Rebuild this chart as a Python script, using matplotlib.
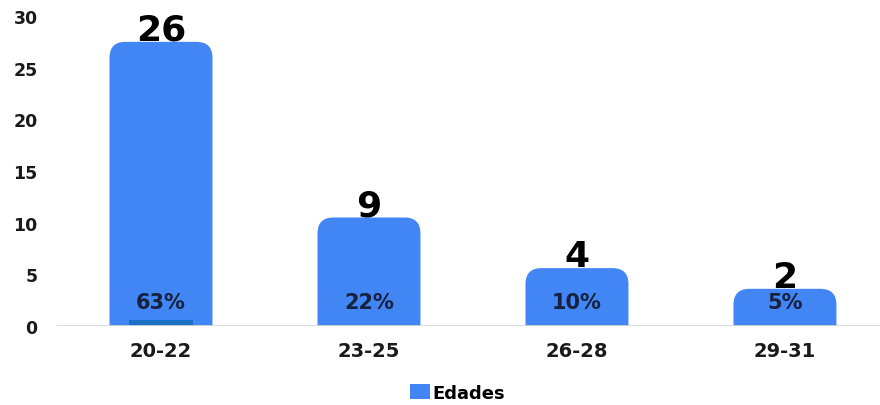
import numpy as np
import matplotlib.pyplot as plt
from matplotlib.path import Path
from matplotlib.patches import PathPatch, Patch

# Data
categories = ["20-22", "23-25", "26-28", "29-31"]
counts = [26, 9, 4, 2]
percents = ["63%", "22%", "10%", "5%"]
# bar heights as drawn (tops sit above the labelled counts)
bar_heights = [27.5, 10.5, 5.6, 3.6]
# thin darker strip at the bottom of the first bar
strip_heights = [0.55, 0, 0, 0]

BLUE = "#4285F4"
FONT = "DejaVu Sans"
plt.rcParams["font.family"] = FONT
plt.rcParams["font.weight"] = "bold"

fig = plt.figure(figsize=(8.8, 4.06), dpi=100)
ax = fig.add_axes([57 / 880, 79 / 406, 1 - 57 / 880, 310 / 406])
ax.set_xlim(-0.5, 3.457)
ax.set_ylim(0, 30)

x = np.arange(len(categories))
bars = ax.bar(x, bar_heights, width=0.495, color=BLUE)


def rounded_top(rect, r_px=16):
    # replace a plain bar with one that has rounded top corners
    x0, y0 = rect.get_x(), rect.get_y()
    w, h = rect.get_width(), rect.get_height()
    x1, y1 = x0 + w, y0 + h
    # convert pixel radius to data units
    px_x = (ax.get_xlim()[1] - ax.get_xlim()[0]) / ax.bbox.width
    px_y = (ax.get_ylim()[1] - ax.get_ylim()[0]) / ax.bbox.height
    rx, ry = r_px * px_x, r_px * px_y
    verts = [(x0, y0), (x0, y1 - ry), (x0, y1), (x0 + rx, y1),
             (x1 - rx, y1), (x1, y1), (x1, y1 - ry), (x1, y0), (x0, y0)]
    codes = [Path.MOVETO, Path.LINETO, Path.CURVE3, Path.CURVE3,
             Path.LINETO, Path.CURVE3, Path.CURVE3, Path.LINETO, Path.CLOSEPOLY]
    patch = PathPatch(Path(verts, codes), facecolor=rect.get_facecolor(),
                      edgecolor="none", zorder=2)
    ax.add_patch(patch)
    rect.set_visible(False)


for b in bars:
    rounded_top(b)

ax.bar(x, strip_heights, width=0.31, color="#1a6fc7", zorder=3)

# baseline
ax.axhline(0, color="#d6d6d6", lw=2, zorder=4)

# value labels above the bars
for xi, h, c in zip(x, bar_heights, counts):
    ax.annotate(str(c), (xi, h), xytext=(0, 2), textcoords="offset pixels",
                ha="center", va="baseline", fontsize=26, fontweight="bold",
                color="black")

# percent labels inside the bars
for xi, p in zip(x, percents):
    ax.text(xi, 2.3, p, ha="center", va="center", fontsize=15,
            fontweight="bold", color="#16223d", zorder=5)

for s in ax.spines.values():
    s.set_visible(False)

ax.set_xticks(x)
ax.set_xticklabels(categories)
ax.set_yticks(range(0, 31, 5))
ax.tick_params(axis="x", length=0, pad=11, labelsize=14, labelcolor="#1a1a1a")
ax.tick_params(axis="y", length=0, pad=14, labelsize=12.5, labelcolor="#1a1a1a")
for lab in ax.get_xticklabels() + ax.get_yticklabels():
    lab.set_fontweight("bold")

fig.legend(handles=[Patch(facecolor=BLUE, label="Edades")],
           loc="center", bbox_to_anchor=(0.52, 0.03), frameon=False,
           handlelength=1.1, handleheight=0.95, handletextpad=0.15,
           prop={"family": FONT, "weight": "bold", "size": 13})

fig.savefig("out.png", dpi=100)
